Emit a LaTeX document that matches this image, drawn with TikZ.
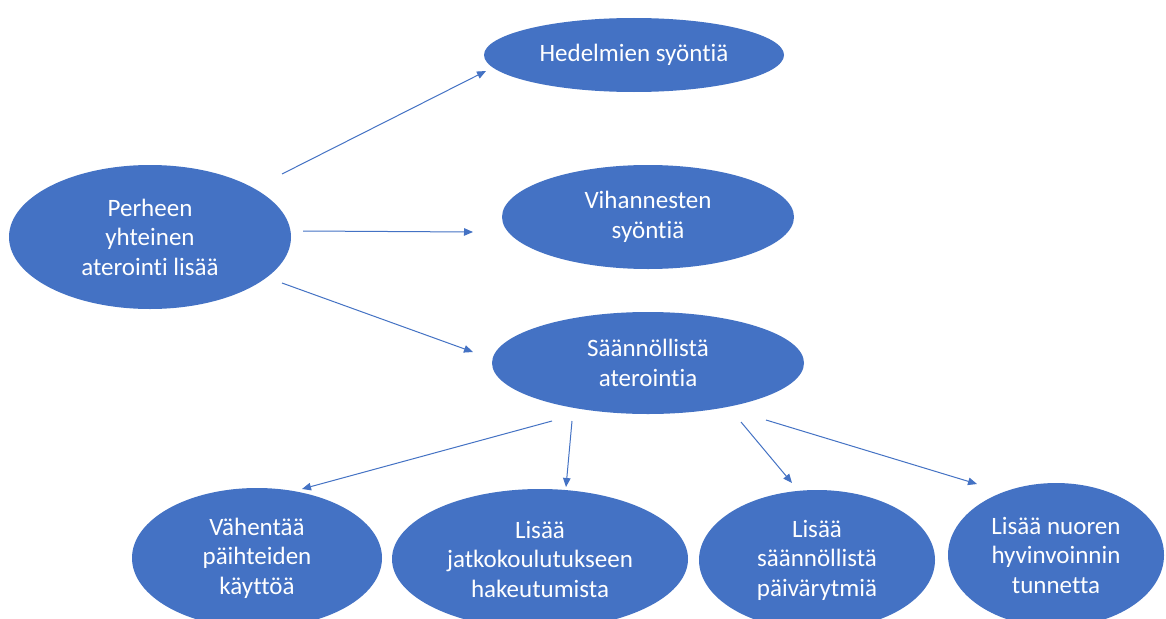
\documentclass[tikz,border=0pt]{standalone}
\usepackage{fontspec}
\setmainfont{Carlito}[Ligatures={NoCommon,NoContextual}]
\usetikzlibrary{shapes.geometric,arrows.meta}
\definecolor{obl}{HTML}{4472C4}
\begin{document}
\begin{tikzpicture}[x=1pt,y=-1pt,
  blob/.style={ellipse, fill=obl, text=white, inner sep=0pt, align=center,
    font=\fontsize{25}{29.5}\selectfont},
  conn/.style={draw=obl, line width=1pt, -{Triangle[length=9pt,width=7.5pt]}}]
\useasboundingbox (0,0) rectangle (1166,618);
\clip (0,0) rectangle (1166,618);
\fill[white] (0,0) rectangle (1166,618);
% top-left source
\node[blob, minimum width=282pt, minimum height=144pt] (fam) at (150,237) {Perheen\\yhteinen\\aterointi lisää};
% middle column
\node[blob, minimum width=300pt, minimum height=74pt] (hed) at (634,55) {Hedelmien syöntiä};
\node[blob, minimum width=292pt, minimum height=104pt] (vih) at (648,217) {Vihannesten\\syöntiä};
\node[blob, minimum width=312pt, minimum height=102pt] (saa) at (648,363) {Säännöllistä\\aterointia};
% bottom row
\node[blob, minimum width=250pt, minimum height=140pt] (vah) at (257,558) {Vähentää\\päihteiden\\käyttöä};
\node[blob, minimum width=296pt, minimum height=140pt] (jat) at (540,559) {Lisää\\jatkokoulutukseen\\hakeutumista};
\node[blob, minimum width=236pt, minimum height=140pt] (pai) at (817,560) {Lisää\\säännöllistä\\päivärytmiä};
\node[blob, minimum width=216pt, minimum height=144pt] (hyv) at (1056,555) {Lisää nuoren\\hyvinvoinnin\\tunnetta};
% connector ends
\coordinate (a1s) at (282,174); \coordinate (a1e) at (486,71);
\coordinate (a2s) at (303,231); \coordinate (a2e) at (473,232);
\coordinate (a3s) at (282,283); \coordinate (a3e) at (473,352);
\coordinate (b1s) at (552,421); \coordinate (b1e) at (302,489);
\coordinate (b2s) at (572,421); \coordinate (b2e) at (566,487);
\coordinate (b3s) at (741,422); \coordinate (b3e) at (792,483);
\coordinate (b4s) at (766,420); \coordinate (b4e) at (977,484);
\draw[conn] (a1s) -- (a1e);
\draw[conn] (a2s) -- (a2e);
\draw[conn] (a3s) -- (a3e);
\draw[conn] (b1s) -- (b1e);
\draw[conn] (b2s) -- (b2e);
\draw[conn] (b3s) -- (b3e);
\draw[conn] (b4s) -- (b4e);
\end{tikzpicture}
\end{document}
